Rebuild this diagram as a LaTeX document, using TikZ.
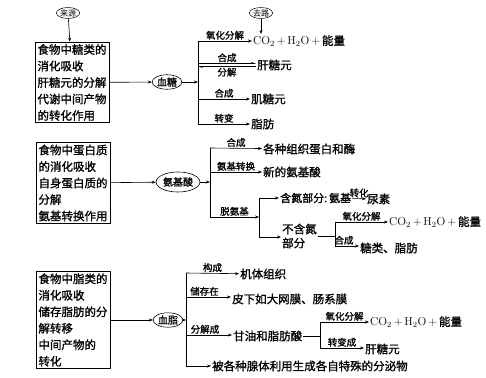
\documentclass[tikz,border=0pt]{standalone}
\usepackage{fontspec}
\newfontfamily\cjk{Noto Sans CJK SC}[AutoFakeBold=1.2]
\usetikzlibrary{arrows.meta,positioning,shapes.geometric}

\begin{document}
\begin{tikzpicture}[x=1pt,y=-1pt,
  box/.style={draw,line width=0.8pt,align=left,inner sep=2pt,text width=70pt,
              font=\cjk\bfseries\fontsize{11.5}{16.5}\selectfont},
  oval/.style={draw,ellipse,inner sep=0.5pt,line width=0.6pt,font=\cjk\bfseries\fontsize{10}{11}\selectfont},
  tag/.style={draw,ellipse,inner sep=0.2pt,line width=0.5pt,font=\cjk\fontsize{8}{9}\selectfont},
  txt/.style={anchor=west,inner sep=1pt,font=\cjk\bfseries\fontsize{11.5}{14}\selectfont},
  lbl/.style={inner sep=1pt,font=\cjk\bfseries\fontsize{9.5}{10}\selectfont},
  bus/.style={line width=0.7pt},
  ar/.style={-{Stealth[length=4pt,width=3pt]},line width=0.6pt},
  hp/.style={-{Stealth[harpoon,length=4pt,width=3pt]},line width=0.6pt}]
\useasboundingbox[fill=white] (0,0) rectangle (486,377);

% ---- sugar
\node[tag] (src) at (68,13) {来源};
\node[tag] (dst) at (261,13) {去路};
\node[box] (sug) at (72.5,82.5) {食物中糖类的\\消化吸收\\肝糖元的分解\\代谢中间产物\\的转化作用};
\node[oval] (glu) at (167,82) {血糖};
\coordinate (s0) at (198,82);
\coordinate (s1) at (198,41);
\coordinate (s2) at (198,65);
\coordinate (s3) at (198,99);
\coordinate (s4) at (198,124);
\node[txt] (co2a) at (252,41) {{\mdseries\normalfont CO$_2$\,+\,H$_2$O\,+\,}能量};
\node[txt] (gly) at (256,65) {肝糖元};
\node[txt] (mus) at (250,99) {肌糖元};
\node[txt] (fat) at (250,124) {脂肪};
\draw[ar] (src) -- (sug);
\draw[ar] (dst.south) -- (dst.south |- co2a.north);
\draw[ar] (sug) -- (glu);
\draw[ar] (glu) -- (s0);
\draw[bus] (s1) -- (s4);
\draw[ar] (s1) -- node[lbl,above] (l1) {氧化分解} (co2a);
\draw[hp] ([yshift=1.5pt]s2) -- node[lbl,above] (l2) {合成} ([yshift=1.5pt]gly.west);
\draw[hp] ([yshift=-1.5pt]gly.west) -- node[lbl,below] (l3) {分解} ([yshift=-1.5pt]s2);
\draw[ar] (s3) -- node[lbl,above] (l4) {合成} (mus);
\draw[ar] (s4) -- node[lbl,above] (l5) {转变} (fat);

% ---- protein
\node[box] (pro) at (73.5,183) {食物中蛋白质\\的消化吸收\\自身蛋白质的\\分解\\氨基转换作用};
\node[oval,minimum width=42pt,minimum height=20pt] (aa) at (178,182) {氨基酸};
\coordinate (p0) at (210,182);
\coordinate (p1) at (210,148);
\coordinate (p2) at (210,172);
\coordinate (p3) at (210,217);
\coordinate (q0) at (259,217);
\coordinate (q1) at (259,198);
\coordinate (q2) at (259,237);
\node[txt] (enz) at (262,149) {各种组织蛋白和酶};
\node[txt] (naa) at (262,172) {新的氨基酸};
\node[txt,font=\cjk\bfseries\fontsize{11}{13}\selectfont] (nh) at (279,198) {含氮部分:\,氨基};
\node[txt] (ure) at (366,199) {尿素};
\node[txt,align=left] (non) at (281,236) {不含氮\\部分};
\coordinate (r0) at (335,236);
\coordinate (r1) at (335,222);
\coordinate (r2) at (335,246);
\node[txt] (co2b) at (388,222) {{\mdseries\normalfont CO$_2$\,+\,H$_2$O\,+\,}能量};
\node[txt] (sgf) at (359,248) {糖类、脂肪};
\draw[ar] (pro) -- (aa);
\draw[ar] (aa) -- (p0);
\draw[bus] (p1) -- (p3);
\draw[ar] (p1) -- node[lbl,above] (m1) {合成} (enz);
\draw[ar] (p2) -- node[lbl,above] (m2) {氨基转换} (naa);
\draw[ar] (p3) -- node[lbl,above] (m3) {脱氨基} (q0);
\draw[bus] (q1) -- (q2);
\draw[ar] (q1) -- (nh);
\draw[ar] (nh) -- node[lbl,above] (m4) {转化} (ure);
\draw[ar] (q2) -- (q2 -| non.west);
\draw[bus] (non.east |- r0) -- (r0);
\draw[bus] (r1) -- (r2);
\draw[ar] (r1) -- node[lbl,above] (m5) {氧化分解} (co2b);
\draw[ar] (r2) -- node[lbl,above,xshift=-3pt] (m6) {合成} (sgf.west |- r2);

% ---- lipid
\node[box] (lip) at (73.5,320) {食物中脂类的\\消化吸收\\储存脂肪的分\\解转移\\中间产物的\\转化};
\node[oval] (bld) at (168,320) {血脂};
\coordinate (f0) at (186,320);
\coordinate (f1) at (186,273);
\coordinate (f2) at (186,297);
\coordinate (f3) at (186,335);
\coordinate (f4) at (186,366);
\node[txt] (tis) at (239,274) {机体组织};
\node[txt] (sub) at (231,299) {皮下如大网膜、肠系膜};
\node[txt] (gfa) at (232,336) {甘油和脂肪酸};
\node[txt] (sec) at (211,366) {被各种腺体利用生成各自特殊的分泌物};
\coordinate (g0) at (320,336);
\coordinate (g1) at (320,322);
\coordinate (g2) at (320,348);
\node[txt] (co2c) at (369,322) {{\mdseries\normalfont CO$_2$\,+\,H$_2$O\,+\,}能量};
\node[txt] (gly2) at (364,349) {肝糖元};
\draw[ar] (lip) -- (bld);
\draw[ar] (bld) -- (f0);
\draw[bus] (f1) -- (f4);
\draw[ar] (f1) -- node[lbl,above] (n1) {构成} (tis);
\draw[ar] (f2) -- node[lbl,above,xshift=-4pt] (n2) {储存在} (sub.west |- f2);
\draw[ar] (f3) -- node[lbl,above,xshift=-4pt] (n3) {分解成} (gfa.west |- f3);
\draw[ar] (f4) -- (sec);
\draw[bus] (gfa.east |- g0) -- (g0);
\draw[bus] (g1) -- (g2);
\draw[ar] (g1) -- node[lbl,above] (n4) {氧化分解} (co2c);
\draw[ar] (g2) -- node[lbl,above] (n5) {转变成} (gly2.west |- g2);
\end{tikzpicture}
\end{document}
